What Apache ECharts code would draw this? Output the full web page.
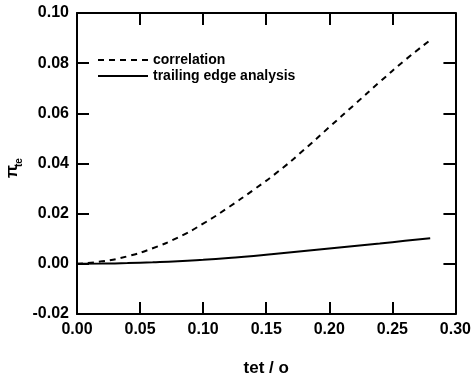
<!DOCTYPE html>
<html>
<head>
<meta charset="utf-8">
<script src="https://cdn.jsdelivr.net/npm/echarts@6/dist/echarts.min.js"></script>
<style>
  html, body { margin: 0; padding: 0; background: #fff; }
  #chart { width: 474px; height: 382px; }
</style>
</head>
<body>
<div id="chart"></div>
<script>
// trailing-edge parameter vs. tet / o
const tetValues = [0, 0.02, 0.04, 0.06, 0.08, 0.10, 0.12, 0.14, 0.16, 0.18, 0.20, 0.22, 0.24, 0.26, 0.28];
const correlationValues = [0, 0.0010, 0.0030, 0.0062, 0.0105, 0.0160, 0.0225, 0.0295, 0.0370, 0.0455, 0.0545, 0.0635, 0.0725, 0.0812, 0.0892];
const trailingEdgeValues = [0, 0.0001, 0.0003, 0.0006, 0.0010, 0.0016, 0.0023, 0.0031, 0.0041, 0.0051, 0.0061, 0.0071, 0.0081, 0.0092, 0.0102];
const seriesNames = ['correlation', 'trailing edge analysis'];
const xTicks = { min: 0, max: 0.3, step: 0.05 };
const yTicks = { min: -0.02, max: 0.10, step: 0.02 };

const FONT = 'Arial, "Liberation Sans", Helvetica, sans-serif';
const pairs = (ys) => tetValues.map((x, i) => [x, ys[i]]);

// frame axis: thick black line with inward ticks; labels only on bottom/left
function makeAxis(range, position, withLabels, extra) {
  const axis = {
    type: 'value',
    min: range.min,
    max: range.max,
    interval: range.step,
    position: position,
    axisLine: { show: true, onZero: false, lineStyle: { color: '#000', width: 2 } },
    axisTick: { show: true, inside: true, length: 12, lineStyle: { color: '#000', width: 2 } },
    splitLine: { show: false },
    axisLabel: withLabels
      ? { show: true, fontFamily: FONT, fontSize: 16, fontWeight: 'bold', color: '#000',
          formatter: (v) => v.toFixed(2) }
      : { show: false }
  };
  return Object.assign(axis, extra || {});
}

const chart = echarts.init(document.getElementById('chart'), null, { renderer: 'canvas' });
chart.setOption({
  animation: false,
  backgroundColor: '#fff',
  grid: { left: 77, right: 16, top: 13, bottom: 58 },
  legend: {
    orient: 'vertical',
    left: 92,
    top: 48,
    itemWidth: 50,
    itemHeight: 14,
    itemGap: 2,
    data: seriesNames,
    itemStyle: { opacity: 0 },
    textStyle: { fontFamily: FONT, fontSize: 14, fontWeight: 'bold', color: '#000' }
  },
  xAxis: [
    makeAxis(xTicks, 'bottom', true, {
      name: 'tet / o', nameLocation: 'middle', nameGap: 46,
      nameTextStyle: { fontFamily: FONT, fontSize: 17, fontWeight: 'bold', color: '#000' }
    }),
    makeAxis(xTicks, 'top', false)
  ],
  yAxis: [
    makeAxis(yTicks, 'left', true),
    makeAxis(yTicks, 'right', false)
  ],
  graphic: [{
    type: 'group',
    x: 12, y: 178,
    rotation: Math.PI / 2,
    children: [
      { type: 'text', x: 0, y: 0, style: { text: 'π', font: 'bold 17px ' + FONT, fill: '#000', textAlign: 'left', textVerticalAlign: 'middle' } },
      { type: 'text', x: 11, y: 7, style: { text: 'te', font: 'bold 10px ' + FONT, fill: '#000', textAlign: 'left', textVerticalAlign: 'middle' } }
    ]
  }],
  series: [
    {
      name: seriesNames[0], type: 'line', smooth: true, symbol: 'none',
      data: pairs(correlationValues),
      lineStyle: { color: '#000', width: 2, type: [6, 5] },
      itemStyle: { color: '#000' }
    },
    {
      name: seriesNames[1], type: 'line', smooth: true, symbol: 'none',
      data: pairs(trailingEdgeValues),
      lineStyle: { color: '#000', width: 2, type: 'solid' },
      itemStyle: { color: '#000' }
    }
  ]
});
</script>
</body>
</html>
